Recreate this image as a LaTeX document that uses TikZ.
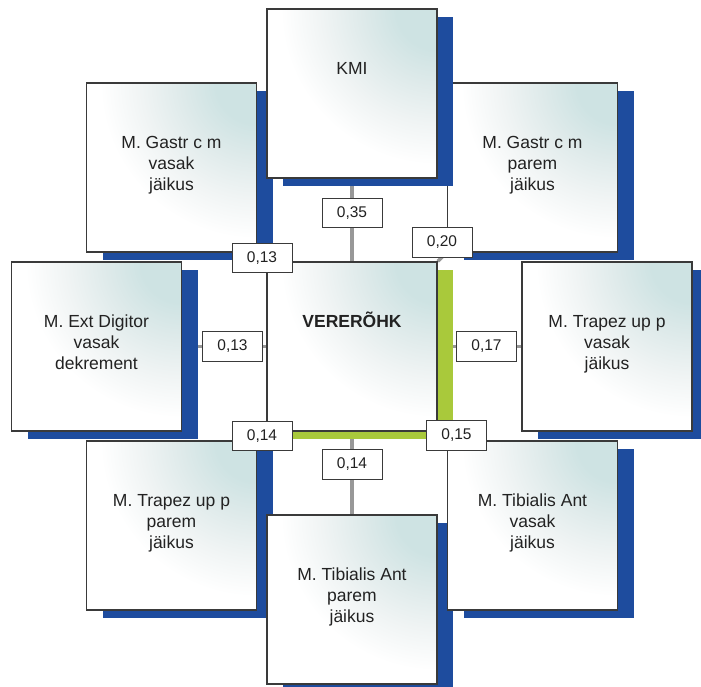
\documentclass[tikz,border=0pt]{standalone}
\usepackage{fontspec}
\setmainfont{Liberation Sans}
\usetikzlibrary{backgrounds}

\definecolor{shadowblue}{RGB}{30,76,158}
\definecolor{shadowgreen}{RGB}{169,201,59}
\definecolor{glowA}{RGB}{206,227,227}
\definecolor{glowB}{RGB}{222,234,234}
\definecolor{glowC}{RGB}{240,244,244}
\definecolor{edgegray}{RGB}{58,58,58}
\definecolor{linkgray}{RGB}{152,152,152}
\definecolor{inkgray}{RGB}{34,34,34}

% concentric glow; its centre is put on the upper right corner of a box
\pgfdeclareradialshading{cornerglow}{\pgfpoint{0bp}{0bp}}{%
  color(0bp)=(glowA); color(6bp)=(glowA); color(11bp)=(glowB);
  color(17bp)=(glowC); color(23bp)=(white); color(50bp)=(white)}

\tikzset{
  box/.style={draw=edgegray, line width=1.4pt,
    minimum width=170pt, minimum height=169pt, inner sep=0pt},
  boxtext/.style={anchor=north, align=center, inner sep=0pt, text=inkgray,
    font=\fontsize{17.5}{21}\selectfont},
  weight/.style={draw=edgegray, line width=0.9pt, fill=white, text=inkgray,
    minimum width=60pt, minimum height=29.5pt, inner sep=0pt,
    font=\fontsize{15.5}{18}\selectfont},
  link/.style={draw=linkgray, line width=3.5pt},
}

% #1 name, #2 left, #3 top, #4 shadow colour, #5 text
\newcommand\placebox[5]{%
  \fill[#4] ({#2+16},{#3+8}) rectangle ({#2+186},{#3+177});
  \begin{scope}
    \clip (#2,#3) rectangle ({#2+170},{#3+169});
    \shade[shading=cornerglow] (#2,{#3-169}) rectangle ({#2+340},{#3+169});
  \end{scope}
  \node[box] (#1) at ({#2+85},{#3+84.5}) {};
  \node[boxtext] (#1-text) at ({#2+85},{#3+48.5}) {\rule{0pt}{17pt}#5};
}

\begin{document}
\begin{tikzpicture}[x=1pt, y=-1pt]
  \useasboundingbox (0,0) rectangle (701,687);
  \clip (0,0) rectangle (701,687);

  % boxes, back to front
  \placebox{ul}{86.5}{83}{shadowblue}{M. Gastr c m\\vasak\\jäikus}
  \placebox{ur}{447.5}{83}{shadowblue}{M. Gastr c m\\parem\\jäikus}
  \placebox{kmi}{267}{9}{shadowblue}{KMI}
  \placebox{lm}{11.5}{262}{shadowblue}{M. Ext Digitor\\vasak\\dekrement}
  \placebox{ctr}{267}{262}{shadowgreen}{\textbf{VERERÕHK}}
  \placebox{rm}{522}{262}{shadowblue}{M. Trapez up p\\vasak\\jäikus}
  \placebox{ll}{86.5}{441}{shadowblue}{M. Trapez up p\\parem\\jäikus}
  \placebox{bt}{267}{515}{shadowblue}{M. Tibialis Ant\\parem\\jäikus}
  \placebox{lr}{447.5}{441}{shadowblue}{M. Tibialis Ant\\vasak\\jäikus}

  % connectors run behind the boxes and their shadows
  \begin{scope}[on background layer]
    \draw[link] (kmi.south) -- (ctr.north);
    \draw[link] (lm.east) -- (ctr.west);
    \draw[link] (ctr.east) -- (rm.west);
    \draw[link] (ctr.south) -- (bt.north);
    \draw[link] (ctr.north west) -- (ul.south east);
    \draw[link] (ctr.north east) -- (ur.south west);
    \draw[link] (ctr.south west) -- (ll.north east);
    \draw[link] (ctr.south east) -- (lr.north west);
  \end{scope}

  % weights on the connectors
  \node[weight] (w-kmi) at (352,213) {0,35};
  \node[weight] (w-ur)  at (442,242.5) {0,20};
  \node[weight] (w-ul)  at (262,258) {0,13};
  \node[weight] (w-lm)  at (232.5,346.5) {0,13};
  \node[weight] (w-rm)  at (486.5,346.5) {0,17};
  \node[weight] (w-ll)  at (262,436) {0,14};
  \node[weight] (w-lr)  at (456.5,435.5) {0,15};
  \node[weight] (w-bt)  at (352,464.5) {0,14};
\end{tikzpicture}
\end{document}
